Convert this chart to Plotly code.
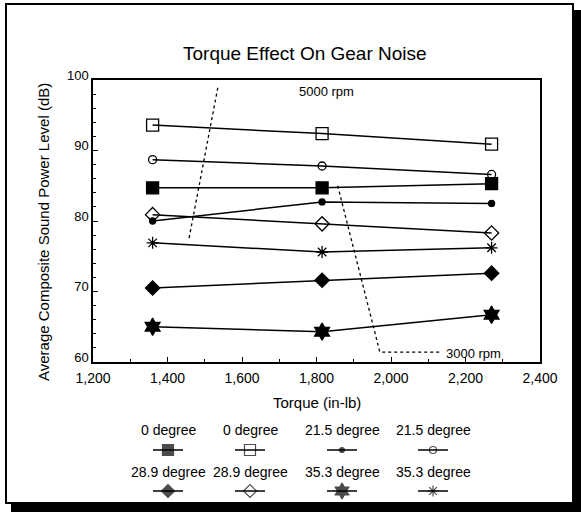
import plotly.graph_objects as go

W, H = 581, 512

# ---- data ----
torque = [1360, 1815, 2270]
series_names = ["0 degree", "0 degree", "21.5 degree", "21.5 degree",
                "28.9 degree", "28.9 degree", "35.3 degree", "35.3 degree"]
deg0_solid = [84.7, 84.7, 85.3]
deg0_open = [93.6, 92.4, 90.9]
deg215_solid = [80.0, 82.7, 82.5]
deg215_open = [88.7, 87.8, 86.6]
deg289_solid = [70.5, 71.6, 72.6]
deg289_open = [80.9, 79.6, 78.3]
deg353_solid = [65.0, 64.3, 66.7]
deg353_open = [76.9, 75.6, 76.2]

# rpm separator guide lines
rpm5000_x = [1535, 1457]
rpm5000_y = [98.9, 77.3]
rpm3000_x = [1857, 1970, 2130]
rpm3000_y = [85.0, 61.4, 61.4]
rpm_labels = ["5000 rpm", "3000 rpm"]
rpm_label_x = [1827, 2222]
rpm_label_y = [98.3, 61.2]

x_ticks = [1200, 1400, 1600, 1800, 2000, 2200, 2400]
y_ticks = [60, 70, 80, 90, 100]

# ---- styles ----
all_series = [deg0_solid, deg0_open, deg215_solid, deg215_open,
              deg289_solid, deg289_open, deg353_solid, deg353_open]
symbols = ["square", "square-open", "circle", "circle-open",
           "diamond", "diamond-open", "hexagram", "asterisk-open"]
sizes = [12, 12, 6, 8, 11, 11, 13, 10]
FONT = "Liberation Sans, Arial, sans-serif"


def px(x):
    return x / W


def py(y):
    return 1 - y / H


fig = go.Figure()

for vals, sym, sz, name in zip(all_series, symbols, sizes, series_names):
    fig.add_trace(go.Scatter(
        x=torque, y=vals, mode="lines+markers", name=name,
        line=dict(color="black", width=1.5),
        marker=dict(symbol=sym, size=sz, color="black",
                    line=dict(color="black", width=1.3)),
        showlegend=False, xaxis="x", yaxis="y"))

for gx, gy in [(rpm5000_x, rpm5000_y), (rpm3000_x, rpm3000_y)]:
    fig.add_trace(go.Scatter(
        x=gx, y=gy, mode="lines", line=dict(color="black", width=1.3, dash="dot"),
        showlegend=False, hoverinfo="skip", xaxis="x", yaxis="y"))

# ---- manual legend (text above symbol, 2 rows x 4 columns) ----
leg_col_x = [168, 250, 342, 433]
leg_text_y = [430, 472]
leg_sym_y = [450, 491]
half = 15
annotations = []
for i, (name, sym, sz) in enumerate(zip(series_names, symbols, sizes)):
    r, c = divmod(i, 4)
    cx = leg_col_x[c]
    fig.add_trace(go.Scatter(
        x=[cx - half, cx, cx + half], y=[leg_sym_y[r]] * 3,
        mode="lines+markers",
        line=dict(color="black", width=1.5),
        marker=dict(symbol=sym, size=[0, sz - 1, 0], color="black",
                    line=dict(color="black", width=1.2)),
        showlegend=False, hoverinfo="skip", xaxis="x2", yaxis="y2"))
    annotations.append(dict(
        x=px(cx), y=py(leg_text_y[r]), xref="paper", yref="paper",
        text=name, showarrow=False, font=dict(size=14, color="black", family=FONT),
        xanchor="center", yanchor="middle"))

annotations += [
    dict(x=px(305), y=py(53), xref="paper", yref="paper",
         text="Torque Effect On Gear Noise", showarrow=False,
         xanchor="center", yanchor="middle",
         font=dict(size=19, color="black", family=FONT)),
    dict(x=px(43), y=py(232), xref="paper", yref="paper",
         text="Average Composite Sound Power Level (dB)", showarrow=False,
         xanchor="center", yanchor="middle",
         textangle=-90, font=dict(size=15, color="black", family=FONT)),
    dict(x=px(317), y=py(402), xref="paper", yref="paper",
         text="Torque (in-lb)", showarrow=False,
         xanchor="center", yanchor="middle",
         font=dict(size=15, color="black", family=FONT)),
]
for t, lx, ly in zip(rpm_labels, rpm_label_x, rpm_label_y):
    annotations.append(dict(x=lx, y=ly, xref="x", yref="y", text=t,
                            showarrow=False,
                            font=dict(size=13, color="black", family=FONT)))

shapes = [
    dict(type="rect", xref="paper", yref="paper",
         x0=px(11), x1=px(581), y0=py(512), y1=py(10),
         fillcolor="black", line=dict(width=0), layer="below"),
    dict(type="rect", xref="paper", yref="paper",
         x0=px(6), x1=px(573), y0=py(503), y1=py(4),
         fillcolor="white", line=dict(color="black", width=2), layer="below"),
]

fig.update_layout(
    template="none",
    width=W, height=H,
    autosize=False,
    margin=dict(l=0, r=0, t=0, b=0, pad=0, autoexpand=False),
    paper_bgcolor="white",
    plot_bgcolor="rgba(0,0,0,0)",
    font=dict(family=FONT, color="black"),
    showlegend=False,
    annotations=annotations,
    shapes=shapes,
    xaxis=dict(domain=[px(93), px(540)], range=[1200, 2400],
               tickvals=x_ticks, tickformat=",d", automargin=False,
               ticklabelstandoff=2,
               ticks="inside", ticklen=5, tickcolor="black", tickwidth=1,
               minor=dict(dtick=100, ticks="inside", ticklen=3, tickcolor="black"),
               showgrid=False, zeroline=False, showline=True, linecolor="black",
               linewidth=1.5, mirror=True, anchor="y",
               tickfont=dict(size=14, color="black", family=FONT)),
    yaxis=dict(domain=[py(362), py(80)], range=[60, 100],
               tickvals=y_ticks, automargin=False, ticklabelshift=-5,
               ticks="inside", ticklen=5, tickcolor="black", tickwidth=1,
               minor=dict(dtick=2, ticks="inside", ticklen=3, tickcolor="black"),
               showgrid=False, zeroline=False, showline=True, linecolor="black",
               linewidth=1.5, mirror=True, anchor="x",
               tickfont=dict(size=13, color="black", family=FONT)),
    xaxis2=dict(domain=[0, 1], range=[0, W], visible=False, anchor="y2",
                fixedrange=True, automargin=False),
    yaxis2=dict(domain=[0, 1], range=[H, 0], visible=False, anchor="x2",
                fixedrange=True, automargin=False),
)

fig.write_html(
    "out.html",
    config={"displayModeBar": False},
    post_script="document.body.style.margin='0';document.body.style.overflow='hidden';",
)
